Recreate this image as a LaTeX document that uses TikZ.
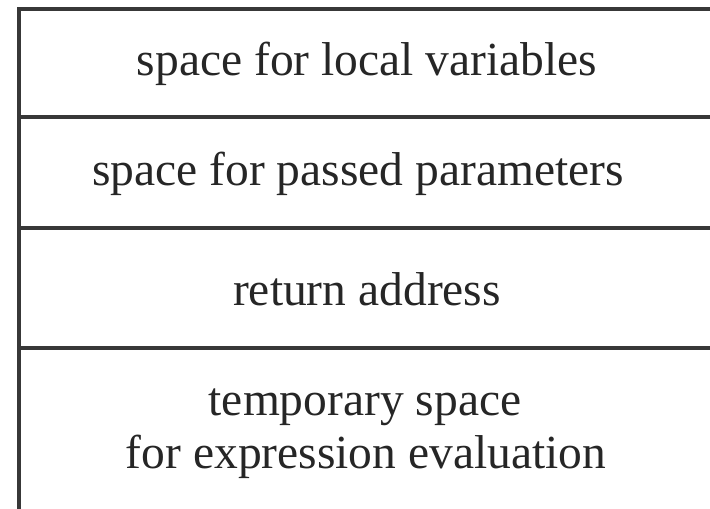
\documentclass[tikz,border=0pt]{standalone}
\usepackage{fontspec}
\setmainfont{Liberation Serif}
\begin{document}
\begin{tikzpicture}[x=1pt,y=-1pt,
  frame/.style={draw=black!78,line width=4pt},
  label/.style={anchor=base,inner sep=0pt,text=black!85,
    font=\fontsize{47.5}{53}\selectfont}]
  \useasboundingbox (0,0) rectangle (710,509);
  \fill[white] (0,0) rectangle (710,509);
  \clip (0,0) rectangle (710,509);
  % stack frame outline and the separators between its parts
  \draw[frame] (18.5,8.5) rectangle (712.5,515);
  \draw[frame] (18.5,117) -- (713,117);
  \draw[frame] (18.5,227.5) -- (713,227.5);
  \draw[frame] (18.5,347.5) -- (713,347.5);
  % contents of each part
  \node[label] (locals) at (367,75) {space for local variables};
  \node[label] (params) at (358,185) {space for passed parameters};
  \node[label] (ret) at (367,305) {return address};
  \node[label] (tmpa) at (365,415) {temporary space};
  \node[label] (tmpb) at (366,468) {for expression evaluation};
\end{tikzpicture}
\end{document}
